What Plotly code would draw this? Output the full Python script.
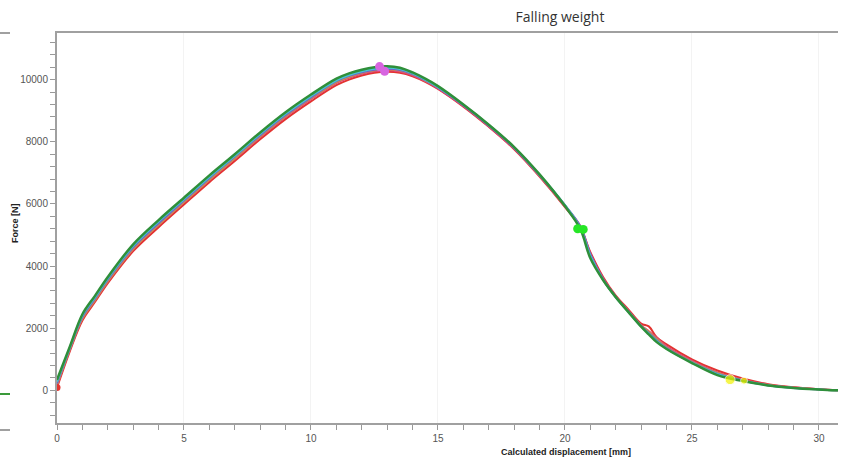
import plotly.graph_objects as go

# Shared displacement grid [mm]
disp = [0, 0.5, 1, 1.5, 2, 3, 4, 5, 6, 7, 8, 9, 10, 11, 11.5, 12, 12.5, 13, 13.5, 14, 14.5, 15,
        16, 17, 18, 19, 20, 20.6, 21, 21.5, 22, 22.5, 23, 23.3, 23.6, 24, 25, 26, 27, 28, 29, 30, 30.75]

# Force [N] per specimen
force_red = [90, 1250, 2250, 2850, 3450, 4480, 5250, 5980, 6700, 7380, 8080, 8730, 9300,
             9820, 10000, 10130, 10220, 10250, 10220, 10110, 9930, 9700,
             9130, 8480, 7760, 6880, 5900, 5250, 4450, 3650, 3050, 2600, 2150, 2060, 1720,
             1480, 1000, 640, 380, 200, 100, 40, 5]
force_magenta = [150, 1300, 2300, 2900, 3500, 4540, 5320, 6050, 6770, 7450, 8150, 8800, 9370,
                 9890, 10060, 10190, 10270, 10300, 10260, 10140, 9950, 9720,
                 9150, 8500, 7780, 6900, 5920, 5300, 4400, 3600, 3020, 2560, 2100, 1900, 1700,
                 1420, 950, 580, 340, 180, 90, 35, 3]
force_olive = [180, 1320, 2320, 2920, 3520, 4560, 5340, 6070, 6790, 7480, 8180, 8830, 9400,
               9920, 10090, 10220, 10300, 10330, 10290, 10170, 9970, 9750,
               9180, 8530, 7810, 6920, 5950, 5250, 4350, 3560, 3000, 2540, 2080, 1880, 1660,
               1380, 920, 560, 330, 170, 85, 30, 2]
force_purple = [220, 1340, 2360, 2960, 3560, 4600, 5380, 6110, 6830, 7520, 8210, 8860, 9430,
                9950, 10120, 10240, 10320, 10350, 10310, 10180, 9980, 9740,
                9170, 8520, 7800, 6920, 5960, 5280, 4380, 3580, 3010, 2540, 2070, 1850, 1620,
                1360, 900, 540, 320, 165, 80, 30, 2]
force_cyan = [280, 1370, 2410, 3000, 3600, 4650, 5430, 6150, 6870, 7550, 8250, 8900, 9470,
              9980, 10150, 10270, 10350, 10380, 10340, 10200, 10000, 9760,
              9190, 8540, 7820, 6940, 5960, 5240, 4330, 3560, 2990, 2520, 2050, 1820, 1590,
              1340, 890, 520, 310, 160, 80, 30, 1]
force_green = [340, 1400, 2450, 3050, 3650, 4700, 5480, 6200, 6920, 7600, 8300, 8950, 9520,
               10030, 10200, 10320, 10400, 10430, 10380, 10230, 10030, 9790,
               9200, 8550, 7830, 6950, 5930, 5200, 4250, 3550, 3000, 2520, 2050, 1800, 1560,
               1330, 880, 490, 300, 160, 80, 30, 0]

# Event markers
peak_x = [12.7, 12.9]
peak_y = [10420, 10270]
break_x = [20.5, 20.72]
break_y = [5200, 5180]
end_x = [26.5, 27.05]
end_y = [345, 310]
start_x = [0]
start_y = [90]

# Axis ticks
x_ticks = [0, 5, 10, 15, 20, 25, 30]
y_ticks = [0, 2000, 4000, 6000, 8000, 10000]
y_tick_labels = ["0", "2000", "4000", "6000", "8000", "10000"]

series = [
    ("red", force_red, "#e3342f", 2),
    ("magenta", force_magenta, "#e0407c", 2),
    ("olive", force_olive, "#c9a23a", 2),
    ("purple", force_purple, "#6d5fd0", 2),
    ("cyan", force_cyan, "#47c7cf", 2),
    ("green", force_green, "#2f8f3a", 2.5),
]

fig = go.Figure()
for name, ys, color, w in series:
    fig.add_trace(go.Scatter(x=disp, y=ys, mode="lines", name=name,
                             line=dict(color=color, width=w, shape="spline", smoothing=1.0)))

fig.add_trace(go.Scatter(x=peak_x, y=peak_y, mode="markers",
                         marker=dict(color="#d765e0", size=9)))
fig.add_trace(go.Scatter(x=break_x, y=break_y, mode="markers",
                         marker=dict(color="#27e627", size=9)))
fig.add_trace(go.Scatter(x=end_x, y=end_y, mode="markers",
                         marker=dict(color="#f2f200", size=[10, 7])))
fig.add_trace(go.Scatter(x=start_x, y=start_y, mode="markers",
                         marker=dict(color="#e3342f", size=7)))

tickfont = dict(family="Liberation Sans Narrow, Liberation Sans, Arial", size=10, color="#555555")

fig.update_layout(
    width=854, height=460,
    margin=dict(l=57, r=16, t=33, b=37),
    paper_bgcolor="white", plot_bgcolor="white",
    showlegend=False, hovermode=False,
    title=dict(text="Falling weight", x=560 / 854, xanchor="center", y=1 - 17 / 460, yanchor="middle",
               font=dict(family="Open Sans", size=14, color="#333333")),
    xaxis=dict(range=[0, 30.75], tickvals=x_ticks,
               ticks="outside", ticklen=5, tickcolor="#999999", tickwidth=1,
               minor=dict(dtick=1, ticks="outside", ticklen=5, tickcolor="#999999", showgrid=False),
               showline=True, linecolor="#a0a0a0", linewidth=2, mirror=True,
               showgrid=True, gridcolor="#f3f3f3", gridwidth=1,
               zeroline=False, tickfont=tickfont),
    yaxis=dict(range=[-1050, 11500], tickvals=y_ticks, ticktext=y_tick_labels,
               ticks="outside", ticklen=5, tickcolor="#999999", tickwidth=1,
               minor=dict(dtick=400, tick0=0, ticks="outside", ticklen=5, tickcolor="#999999", showgrid=False),
               showline=True, linecolor="#a0a0a0", linewidth=2,
               showgrid=False, zeroline=False, tickfont=tickfont),
    annotations=[
        dict(text="<b>Force [N]</b>", xref="paper", yref="paper",
             x=-42 / 781, y=(423 - 223) / 390, xanchor="center", yanchor="middle", textangle=-90,
             showarrow=False, font=dict(family="Liberation Sans Narrow, Liberation Sans, Arial", size=9, color="#222222")),
        dict(text="<b>Calculated displacement [mm]</b>", xref="paper", yref="paper",
             x=(566 - 57) / 781, y=-(452 - 423) / 390, xanchor="center", yanchor="middle",
             showarrow=False, font=dict(family="Liberation Sans Narrow, Liberation Sans, Arial", size=9, color="#222222")),
    ],
    shapes=[
        dict(type="line", xref="paper", yref="paper", x0=-57 / 781, x1=-47 / 781,
             y0=(423 - 33) / 390, y1=(423 - 33) / 390, line=dict(color="#a0a0a0", width=2)),
        dict(type="line", xref="paper", yref="paper", x0=-57 / 781, x1=-47 / 781,
             y0=(423 - 430) / 390, y1=(423 - 430) / 390, line=dict(color="#a0a0a0", width=2)),
        dict(type="line", xref="paper", yref="paper", x0=-57 / 781, x1=-47 / 781,
             y0=(423 - 394) / 390, y1=(423 - 394) / 390, line=dict(color="#3a9a3a", width=2)),
    ],
)

fig.write_html("out.html", config=dict(displayModeBar=False))
